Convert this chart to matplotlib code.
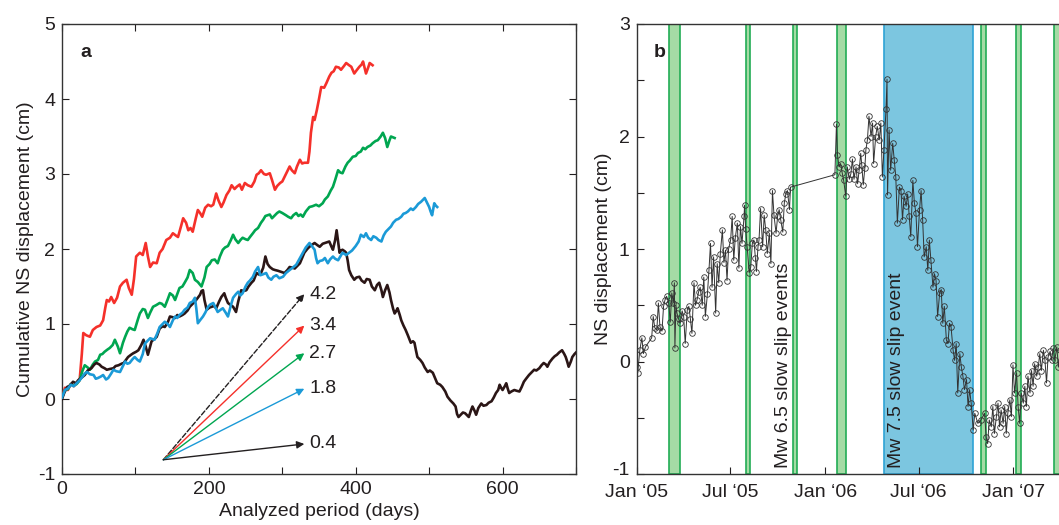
import matplotlib
matplotlib.use("Agg")
import matplotlib.pyplot as plt
import matplotlib.transforms as mtransforms
import numpy as np
import pandas as pd

plt.rcParams['font.family'] = ['Liberation Sans', 'DejaVu Sans']
plt.rcParams['text.color'] = '#231f20'
plt.rcParams['axes.labelcolor'] = '#231f20'
plt.rcParams['xtick.color'] = '#231f20'
plt.rcParams['ytick.color'] = '#231f20'

# ---- panel a: cumulative NS displacement (cm) vs analyzed day ----
red_days = [0, 4, 8, 12, 16, 20, 24, 27, 29, 33, 38, 42, 47, 52, 56, 59, 61, 64, 67, 71, 75, 79, 83, 88, 91, 95,
            98, 101, 106, 110, 114, 117, 120, 124, 129, 133, 137, 142, 147, 151, 155, 158, 162, 165, 169, 172,
            175, 178, 182, 185, 188, 191, 195, 199, 203, 206, 210, 213, 217, 220, 224, 228, 231, 235, 238, 242,
            245, 249, 253, 258, 262, 265, 268, 271, 275, 278, 283, 286, 290, 293, 297, 300, 303, 306, 310, 313,
            317, 320, 324, 327, 330, 335, 337, 339, 342, 344, 347, 350, 353, 357, 360, 364, 367, 370, 373, 377,
            380, 384, 387, 391, 394, 398, 401, 405, 408, 410, 414, 417, 419, 423]
red_disp = [0.02, 0.15, 0.12, 0.2, 0.17, 0.21, 0.25, 0.6, 0.88, 0.85, 0.83, 0.92, 0.96, 0.98, 1.05, 1.22, 1.32,
            1.3, 1.36, 1.28, 1.35, 1.5, 1.55, 1.59, 1.48, 1.39, 1.6, 1.9, 1.95, 1.92, 2.08, 1.9, 1.76, 1.82, 1.81,
            1.95, 2.0, 2.12, 2.15, 2.21, 2.18, 2.16, 2.3, 2.41, 2.35, 2.25, 2.28, 2.23, 2.4, 2.52, 2.48, 2.43,
            2.55, 2.59, 2.57, 2.59, 2.74, 2.65, 2.56, 2.62, 2.72, 2.78, 2.85, 2.8, 2.83, 2.86, 2.79, 2.88, 2.85,
            2.83, 2.9, 2.99, 3.01, 3.05, 3.0, 2.99, 3.01, 2.92, 2.79, 2.84, 2.88, 2.9, 2.96, 3.02, 3.1, 3.05,
            3.01, 3.1, 3.19, 3.14, 3.15, 3.15, 3.3, 3.55, 3.76, 3.72, 3.85, 4.0, 4.16, 4.15, 4.21, 4.3, 4.35,
            4.37, 4.43, 4.42, 4.39, 4.44, 4.48, 4.45, 4.43, 4.34, 4.38, 4.43, 4.46, 4.5, 4.34, 4.42, 4.48, 4.45]

green_days = [0, 4, 8, 12, 16, 20, 24, 28, 31, 35, 38, 42, 45, 49, 52, 55, 58, 62, 65, 69, 72, 76, 79, 83, 86,
              89, 92, 96, 99, 103, 106, 110, 113, 117, 120, 124, 128, 133, 136, 140, 144, 147, 151, 154, 157,
              160, 164, 167, 171, 174, 178, 181, 185, 190, 194, 197, 201, 204, 208, 212, 215, 219, 222, 226,
              230, 233, 236, 240, 243, 246, 250, 253, 256, 260, 263, 267, 271, 274, 277, 280, 283, 286, 290,
              293, 296, 300, 305, 308, 312, 315, 319, 322, 325, 328, 332, 337, 341, 346, 350, 355, 358, 362,
              366, 369, 372, 376, 379, 382, 386, 389, 392, 396, 400, 403, 407, 410, 413, 416, 420, 423, 427,
              430, 434, 437, 440, 443, 446, 448, 453]
green_disp = [0.02, 0.12, 0.13, 0.2, 0.18, 0.2, 0.25, 0.38, 0.45, 0.42, 0.39, 0.46, 0.5, 0.52, 0.59, 0.6, 0.63,
              0.66, 0.68, 0.72, 0.79, 0.7, 0.61, 0.75, 0.83, 0.9, 0.95, 0.93, 0.92, 1.05, 1.14, 1.2, 1.19, 1.08,
              1.15, 1.23, 1.25, 1.28, 1.27, 1.23, 1.33, 1.41, 1.38, 1.32, 1.4, 1.48, 1.5, 1.55, 1.62, 1.72,
              1.68, 1.59, 1.56, 1.5, 1.62, 1.76, 1.8, 1.85, 1.86, 1.81, 1.9, 1.99, 2.02, 2.04, 2.12, 2.19,
              2.13, 2.08, 2.12, 2.15, 2.13, 2.12, 2.16, 2.21, 2.25, 2.28, 2.35, 2.39, 2.44, 2.45, 2.46, 2.41,
              2.45, 2.48, 2.5, 2.48, 2.45, 2.43, 2.41, 2.45, 2.48, 2.44, 2.46, 2.43, 2.5, 2.56, 2.57, 2.59,
              2.57, 2.61, 2.66, 2.7, 2.78, 2.83, 2.92, 3.05, 3.02, 3.01, 3.1, 3.15, 3.18, 3.23, 3.24, 3.28,
              3.3, 3.35, 3.33, 3.36, 3.38, 3.41, 3.44, 3.45, 3.5, 3.55, 3.48, 3.36, 3.45, 3.5, 3.48]

blue_days = [0, 4, 8, 12, 16, 20, 24, 28, 31, 34, 38, 43, 46, 49, 53, 56, 60, 63, 67, 70, 74, 79, 82, 86, 89,
             92, 96, 99, 103, 106, 110, 113, 117, 120, 123, 126, 130, 133, 137, 140, 144, 147, 151, 154, 157,
             160, 164, 167, 171, 174, 178, 181, 183, 185, 188, 192, 195, 199, 202, 206, 209, 212, 216, 219,
             223, 226, 230, 233, 237, 240, 243, 246, 250, 253, 256, 260, 263, 267, 270, 273, 278, 281, 285,
             288, 292, 296, 301, 305, 310, 314, 319, 323, 328, 332, 337, 341, 344, 346, 348, 351, 355, 358,
             362, 365, 369, 372, 376, 379, 382, 387, 391, 395, 400, 404, 407, 411, 414, 417, 421, 424, 428,
             431, 435, 438, 441, 445, 448, 451, 455, 458, 462, 465, 468, 471, 475, 478, 482, 485, 489, 492,
             494, 497, 500, 502, 504, 507, 509, 511]
blue_disp = [0.02, 0.12, 0.14, 0.19, 0.17, 0.21, 0.25, 0.3, 0.34, 0.36, 0.33, 0.32, 0.27, 0.28, 0.3, 0.32, 0.26,
             0.28, 0.34, 0.39, 0.37, 0.36, 0.42, 0.5, 0.47, 0.48, 0.53, 0.56, 0.52, 0.5, 0.6, 0.74, 0.78, 0.81,
             0.8, 0.79, 0.88, 0.96, 1.0, 1.03, 1.0, 0.96, 1.05, 1.1, 1.08, 1.12, 1.15, 1.19, 1.22, 1.28, 1.3,
             1.35, 1.2, 1.01, 1.05, 1.1, 1.15, 1.23, 1.26, 1.28, 1.22, 1.16, 1.19, 1.21, 1.15, 1.1, 1.25, 1.35,
             1.4, 1.43, 1.38, 1.41, 1.5, 1.55, 1.58, 1.63, 1.7, 1.76, 1.65, 1.66, 1.68, 1.62, 1.59, 1.63,
             1.65, 1.61, 1.63, 1.68, 1.72, 1.75, 1.79, 1.86, 1.95, 2.02, 2.08, 2.03, 1.99, 1.88, 1.81, 1.84,
             1.85, 1.88, 1.81, 1.86, 1.9, 1.87, 1.85, 1.9, 1.95, 1.92, 1.95, 1.98, 2.04, 2.1, 2.19, 2.16,
             2.21, 2.15, 2.12, 2.17, 2.15, 2.12, 2.1, 2.18, 2.23, 2.27, 2.3, 2.35, 2.39, 2.4, 2.43, 2.47,
             2.48, 2.5, 2.54, 2.52, 2.56, 2.6, 2.63, 2.66, 2.68, 2.62, 2.56, 2.5, 2.45, 2.61, 2.58, 2.56]

dark_days = [0, 3, 7, 11, 15, 19, 22, 26, 31, 35, 40, 44, 47, 51, 54, 58, 61, 65, 70, 73, 77, 81, 84, 87, 90,
             94, 97, 101, 104, 108, 111, 114, 117, 120, 122, 126, 129, 133, 137, 140, 144, 147, 151, 154, 157,
             160, 164, 167, 171, 174, 178, 181, 185, 188, 190, 192, 194, 197, 201, 204, 207, 210, 214, 217,
             221, 223, 226, 230, 233, 237, 240, 244, 247, 251, 254, 258, 261, 265, 268, 271, 274, 277, 280,
             283, 287, 290, 294, 297, 300, 303, 307, 310, 314, 317, 321, 324, 327, 330, 334, 337, 341, 344,
             348, 351, 355, 358, 361, 364, 367, 369, 372, 374, 376, 378, 380, 382, 385, 387, 389, 391, 394,
             398, 401, 405, 408, 412, 415, 419, 422, 426, 429, 432, 435, 437, 440, 443, 446, 448, 451, 453,
             455, 457, 460, 462, 465, 468, 471, 475, 478, 480, 482, 484, 488, 491, 494, 498, 501, 505, 508,
             511, 515, 518, 522, 525, 529, 533, 536, 538, 540, 543, 546, 549, 552, 554, 557, 559, 562, 564,
             567, 571, 574, 578, 581, 585, 588, 591, 594, 596, 598, 600, 603, 605, 607, 609, 612, 616, 619,
             623, 626, 629, 632, 636, 639, 643, 646, 650, 653, 656, 659, 661, 664, 668, 671, 674, 677, 681,
             684, 686, 688, 690, 693, 695, 698, 700]
dark_disp = [0.0, 0.08, 0.16, 0.18, 0.23, 0.21, 0.25, 0.28, 0.32, 0.38, 0.41, 0.46, 0.48, 0.46, 0.43, 0.41,
             0.39, 0.4, 0.41, 0.44, 0.45, 0.47, 0.48, 0.52, 0.56, 0.59, 0.61, 0.63, 0.65, 0.72, 0.79, 0.7,
             0.59, 0.7, 0.77, 0.8, 0.83, 0.94, 0.97, 0.96, 1.02, 1.1, 1.09, 1.08, 1.12, 1.1, 1.12, 1.14, 1.18,
             1.23, 1.27, 1.3, 1.35, 1.39, 1.44, 1.45, 1.32, 1.19, 1.22, 1.23, 1.24, 1.21, 1.3, 1.36, 1.41,
             1.35, 1.28, 1.25, 1.23, 1.16, 1.3, 1.45, 1.44, 1.45, 1.5, 1.55, 1.58, 1.68, 1.66, 1.68, 1.75,
             1.9, 1.8, 1.76, 1.73, 1.72, 1.71, 1.7, 1.69, 1.68, 1.72, 1.76, 1.75, 1.74, 1.78, 1.81, 1.88,
             1.95, 2.0, 2.03, 2.06, 2.08, 2.05, 2.03, 2.07, 2.08, 2.09, 2.1, 2.03, 1.99, 2.12, 2.25, 2.1,
             1.95, 1.98, 1.99, 1.97, 1.95, 1.85, 1.72, 1.65, 1.59, 1.62, 1.63, 1.58, 1.55, 1.6, 1.59, 1.5,
             1.45, 1.52, 1.55, 1.45, 1.36, 1.45, 1.52, 1.42, 1.32, 1.2, 1.14, 1.17, 1.21, 1.12, 1.05, 0.98,
             0.92, 0.85, 0.75, 0.77, 0.75, 0.65, 0.56, 0.52, 0.48, 0.42, 0.36, 0.38, 0.35, 0.28, 0.21, 0.19,
             0.16, 0.1, 0.03, -0.02, -0.06, -0.1, -0.2, -0.24, -0.21, -0.18, -0.19, -0.22, -0.24, -0.15,
             -0.1, -0.16, -0.21, -0.12, -0.06, -0.09, -0.08, -0.05, -0.03, 0.02, 0.08, 0.12, 0.19, 0.15,
             0.12, 0.17, 0.21, 0.14, 0.08, 0.1, 0.12, 0.11, 0.1, 0.16, 0.23, 0.27, 0.32, 0.35, 0.39, 0.38,
             0.41, 0.45, 0.48, 0.46, 0.43, 0.49, 0.54, 0.57, 0.59, 0.62, 0.65, 0.6, 0.56, 0.5, 0.43, 0.5,
             0.56, 0.6, 0.62]

# velocity arrows (cm/yr)
rate_labels = ['4.2', '3.4', '2.7', '1.8', '0.4']
rates = [4.2, 3.4, 2.7, 1.8, 0.4]

# ---- panel b: daily NS displacement, days since 1 Jan 2005 ----
b_days = [0, 2, 6, 10, 13, 17, 29, 32, 35, 39, 42, 45, 49, 52, 55, 58, 62, 65, 68, 71, 73, 74, 76, 78, 81, 84,
          88, 91, 94, 98, 101, 104, 107, 111, 114, 117, 120, 123, 127, 130, 133, 137, 140, 143, 146, 149, 153,
          156, 159, 162, 166, 169, 172, 175, 178, 182, 185, 188, 191, 195, 198, 201, 204, 208, 209, 211, 214,
          218, 221, 224, 227, 230, 232, 235, 237, 240, 244, 247, 250, 253, 257, 260, 263, 266, 270, 273, 276,
          279, 283, 286, 289, 292, 296, 298,
          384, 387, 389, 392, 395, 398, 401, 405, 408, 412, 415, 418, 421, 425, 428, 431, 434, 436, 439, 442,
          444, 447, 450, 454, 457, 459, 463, 466, 470, 473, 476, 479, 483, 485, 486, 489, 492, 496, 499, 502,
          505, 509, 512, 515, 518, 522, 525, 528, 531, 535, 538, 541, 544, 548, 551, 554, 557, 561, 564, 567,
          570, 574, 577, 580, 583, 587, 590, 593, 596, 600, 603, 606, 609, 613, 616, 619, 622, 626, 629, 632,
          635, 639, 642, 645, 648, 652, 655, 661, 667, 674, 677, 680, 683, 687, 690, 693, 697, 700, 703, 706,
          710, 713, 716, 719, 723, 726, 729, 732, 736, 739, 742, 745, 749, 752, 755, 758, 762, 765, 768, 771,
          775, 778, 781, 784, 788, 791, 794, 797, 801, 804, 807, 810, 814, 817, 821]
b_disp = [-0.05, -0.1, 0.1, 0.21, 0.07, 0.13, 0.21, 0.4, 0.3, 0.28, 0.52, 0.31, 0.27, 0.49, 0.55, 0.58, 0.52,
          0.35, 0.61, 0.52, 0.7, 0.12, 0.5, 0.43, 0.38, 0.34, 0.45, 0.4, 0.16, 0.46, 0.49, 0.38, 0.25, 0.7, 0.5,
          0.55, 0.62, 0.66, 0.5, 0.75, 0.4, 0.6, 0.81, 1.05, 0.66, 0.93, 0.43, 0.87, 0.7, 0.96, 1.17, 0.88,
          0.99, 0.72, 1.0, 1.08, 1.29, 0.9, 1.1, 1.23, 0.83, 1.2, 1.05, 1.29, 1.39, 1.18, 1.02, 0.79, 0.84,
          1.05, 1.08, 0.92, 0.8, 1.02, 1.08, 1.36, 1.02, 1.3, 1.17, 0.96, 1.14, 0.87, 1.52, 1.3, 1.14, 1.29,
          1.35, 1.26, 1.15, 1.41, 1.49, 1.52, 1.35, 1.55,
          1.66, 2.11, 1.84, 1.73, 1.76, 1.68, 1.61, 1.47, 1.73, 1.62, 1.67, 1.8, 1.62, 1.73, 1.58, 1.7, 1.85,
          1.75, 1.57, 1.72, 1.88, 1.97, 2.18, 2.0, 2.12, 1.76, 2.0, 2.09, 1.97, 2.12, 1.64, 1.88, 2.24, 2.51,
          1.48, 2.06, 1.7, 1.94, 1.79, 1.64, 1.23, 1.55, 1.52, 1.26, 1.47, 1.38, 1.49, 1.29, 1.11, 1.61, 1.41,
          1.32, 1.02, 1.35, 1.52, 1.26, 0.93, 1.02, 0.81, 1.08, 0.9, 0.66, 0.78, 0.72, 0.4, 0.61, 0.64, 0.34,
          0.49, 0.19, 0.16, 0.34, 0.31, 0.1, 0.01, 0.16, -0.28, 0.07, -0.05, -0.13, -0.25, -0.16, -0.4, -0.25,
          -0.37, -0.61, -0.46, -0.55, -0.52, -0.46, -0.67, -0.73, -0.52, -0.58, -0.4, -0.64, -0.49, -0.37,
          -0.58, -0.43, -0.55, -0.4, -0.64, -0.46, -0.34, -0.49, -0.03, -0.28, -0.1, -0.4, -0.55, -0.28, -0.37,
          -0.22, -0.4, -0.13, -0.28, -0.08, -0.22, -0.02, -0.13, -0.05, 0.07, -0.08, 0.1, 0.01, -0.19, 0.04,
          0.09, 0.01, 0.12, 0.01, 0.13, -0.05, 0.1]

# slow slip event windows (days since 1 Jan 2005)
sse_small = [(63, 84), (212, 220), (302, 311), (389, 405), (668, 677), (734, 744), (808, 824)]
sse_large = (479, 652)

t0 = pd.Timestamp('2005-01-01')


def to_date(d):
    return t0 + pd.to_timedelta(np.asarray(d, dtype=float), unit='D')


fig = plt.figure(figsize=(10.59, 5.25), dpi=100)
axa = fig.add_axes([62 / 1059, 1 - 474 / 525, 514 / 1059, 450 / 525])
axb = fig.add_axes([636.7 / 1059, 1 - 474 / 525, (1062 - 636.7) / 1059, 450 / 525])

# --- panel a ---
axa.plot(red_days, red_disp, color='#f5302a', lw=1.9, zorder=3)
axa.plot(green_days, green_disp, color='#00a650', lw=1.9, zorder=3)
axa.plot(dark_days, dark_disp, color='#2b1616', lw=1.9, zorder=3)
axa.plot(blue_days, blue_disp, color='#1b9ad7', lw=1.9, zorder=3)

x0, y0, x1 = 138, -0.81, 330
arrow_colors = ['#231f20', '#f5302a', '#00a650', '#1b9ad7', '#231f20']
arrow_styles = ['--', '-', '-', '-', '-']
for lab, r, c, ls in zip(rate_labels, rates, arrow_colors, arrow_styles):
    y1 = y0 + r * (x1 - x0) / 365.0
    axa.annotate('', xy=(x1, y1), xytext=(x0, y0),
                 arrowprops=dict(arrowstyle='-|>', color=c, lw=1.0, linestyle=ls,
                                 mutation_scale=11, shrinkA=0, shrinkB=0))
    axa.text(x1 + 7, y1, lab, fontsize=14, va='center', ha='left')

axa.set_xlim(0, 700)
axa.set_ylim(-1, 5)
axa.set_xticks(range(0, 701, 100))
axa.set_xticklabels(['0', '', '200', '', '400', '', '600', ''])
axa.set_yticks(range(-1, 6))
axa.set_yticklabels(['-1', '0', '1', '2', '3', '4', '5'])
axa.tick_params(direction='in', length=5, width=0.8, top=True, right=True, labelsize=14, pad=5)
axa.set_xlabel('Analyzed period (days)', fontsize=14, labelpad=4)
axa.set_ylabel('Cumulative NS displacement (cm)', fontsize=14, labelpad=3)
axa.text(0.035, 0.955, 'a', transform=axa.transAxes, fontsize=14, fontweight='bold', va='top')

# --- panel b ---
for s, e in sse_small:
    axb.axvspan(to_date(s), to_date(e), facecolor='#a5dba5', edgecolor='#22ad55', lw=1.2, zorder=1)
axb.axvspan(to_date(sse_large[0]), to_date(sse_large[1]), facecolor='#7cc6e0', edgecolor='#2ea3d5',
            lw=1.2, zorder=1)

axb.plot(to_date(b_days), b_disp, color='#333333', lw=0.7, marker='o', markersize=4,
         markerfacecolor='none', markeredgecolor='#333333', markeredgewidth=0.6, zorder=3)

axb.text(to_date(285), -0.95, 'Mw 6.5 slow slip events', rotation=90, fontsize=14, ha='center', va='bottom')
axb.text(to_date(503), -0.95, 'Mw 7.5 slow slip event', rotation=90, fontsize=14, ha='center', va='bottom')

axb.set_xlim(to_date(0), to_date(824))
axb.set_ylim(-1, 3)
tick_dates = pd.to_datetime(['2005-01-01', '2005-07-01', '2006-01-01', '2006-07-01', '2007-01-01'])
axb.set_xticks(tick_dates)
axb.set_xticklabels(['Jan \u201805', 'Jul \u201805', 'Jan \u201806', 'Jul \u201806', 'Jan \u201807'])
axb.set_yticks(range(-1, 4))
axb.set_yticks([-0.5, 0.5, 1.5, 2.5], minor=True)
axb.set_yticklabels(['-1', '0', '1', '2', '3'])
axb.tick_params(direction='in', length=5, width=0.8, labelsize=14, pad=5)
axb.tick_params(axis='x', pad=7)
axb.tick_params(which='minor', direction='in', length=5, width=0.8)
axb.spines['right'].set_visible(False)
axb.set_ylabel('NS displacement (cm)', fontsize=14, labelpad=0)
axb.text(0.04, 0.955, 'b', transform=axb.transAxes, fontsize=14, fontweight='bold', va='top')

# lift the lowest y label of panel b a little, as in the original
lowest = axb.get_yticklabels()[0]
lowest.set_transform(lowest.get_transform() +
                     mtransforms.ScaledTranslation(0, 4 / 72, fig.dpi_scale_trans))

for ax in (axa, axb):
    for sp in ax.spines.values():
        sp.set_color('#333333')
        sp.set_linewidth(1.0)

fig.savefig('out.png', dpi=100)
